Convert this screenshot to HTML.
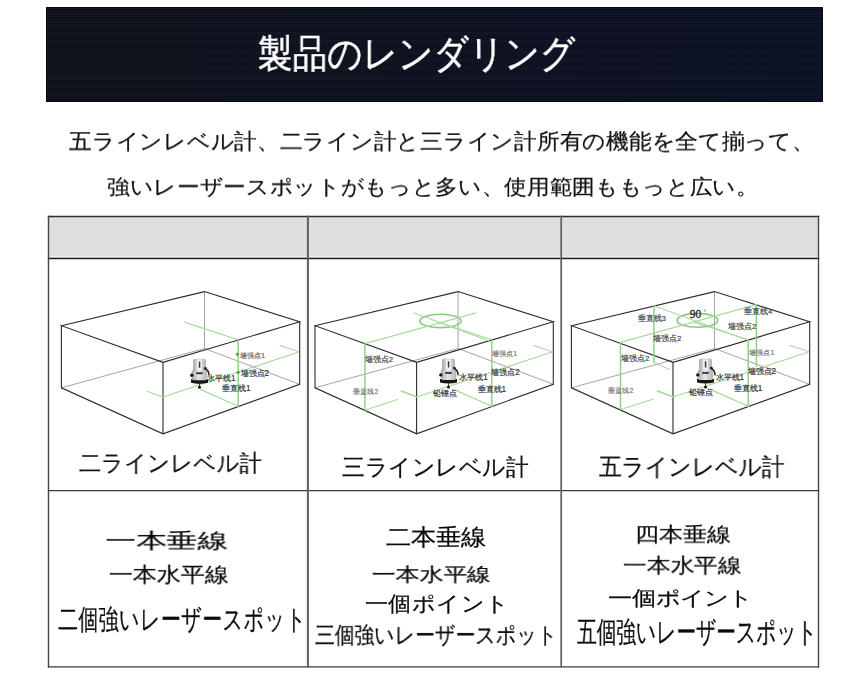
<!DOCTYPE html>
<html><head><meta charset="utf-8">
<style>
html,body{margin:0;padding:0;background:#fff;}
body{width:861px;height:678px;position:relative;overflow:hidden;font-family:"Liberation Sans",sans-serif;}
.banner{position:absolute;left:46px;top:7px;width:775px;height:93px;border:1px solid #06080e;
background:repeating-linear-gradient(180deg,rgba(255,255,255,0.025) 0px,rgba(255,255,255,0.025) 1.35px,rgba(0,0,0,0.07) 1.35px,rgba(0,0,0,0.07) 2.7px),linear-gradient(90deg,#0f121c,#0d1120 50%,#0b1126);}
.t{position:absolute;white-space:nowrap;transform-origin:0 0;will-change:transform;-webkit-text-stroke:0.22px currentColor;}
.hdr{position:absolute;left:48px;top:216px;width:770px;height:42px;background:#dfdfdf;}
.hl{position:absolute;background:#2a2a2a;}
svg{position:absolute;left:0;top:0;}
.edge{fill:none;stroke:#2b2b2b;stroke-width:1.1;stroke-linejoin:miter;}
.hid{fill:none;stroke:#9a9a9a;stroke-width:0.9;}
.g{stroke:#a6dc9c;stroke-width:1.2;}
.gv{stroke:#92d08a;stroke-width:1.5;}
.ge{fill:none;stroke:#88cc80;stroke-width:1.6;}
text{font-family:"Liberation Sans",sans-serif;stroke:currentColor;}
</style></head><body>
<div class="banner"></div>
<div class="hdr"></div>
<svg width="861" height="678" viewBox="0 0 861 678"><defs><linearGradient id="dg" x1="0" x2="1" y1="0" y2="0"><stop offset="0" stop-color="#a9a9a9"/><stop offset="0.45" stop-color="#e6e6e6"/><stop offset="1" stop-color="#b4b4b4"/></linearGradient></defs>
<line x1="47.8" y1="216.4" x2="819.2" y2="216.4" stroke="#2e2e2e" stroke-width="1.5"/>
<line x1="48" y1="256.6" x2="818" y2="256.6" stroke="#ececec" stroke-width="1.2"/>
<line x1="47.8" y1="258.5" x2="819.2" y2="258.5" stroke="#1e1e1e" stroke-width="1.5"/>
<line x1="47.8" y1="490.5" x2="819.2" y2="490.5" stroke="#3a3a3a" stroke-width="1.25"/>
<line x1="47.8" y1="666.8" x2="819.2" y2="666.8" stroke="#707070" stroke-width="1.8"/>
<line x1="48.5" y1="215.8" x2="48.5" y2="667.6" stroke="#444" stroke-width="1.4"/>
<line x1="307.9" y1="215.8" x2="307.9" y2="667.6" stroke="#5e5e5e" stroke-width="2"/>
<line x1="561.2" y1="215.8" x2="561.2" y2="667.6" stroke="#606060" stroke-width="1.7"/>
<line x1="818.5" y1="215.8" x2="818.5" y2="667.6" stroke="#444" stroke-width="1.4"/>
<polyline points="204.5,291.6 204.5,348.5" class="hid"/>
<polyline points="61.4,387.8 204.5,348.5 299.7,384.3" class="hid"/>
<polygon points="61.4,325.7 204.5,291.6 299.7,321.8 163.0,362.3" class="edge"/>
<polyline points="61.4,325.7 61.4,387.8 163.0,433.8 299.7,384.3 299.7,321.8" class="edge"/>
<line x1="163.0" y1="362.3" x2="163.0" y2="433.8" class="edge"/>
<polyline points="458.1,291.6 458.1,348.5" class="hid"/>
<polyline points="315.0,387.8 458.1,348.5 553.3,384.3" class="hid"/>
<polygon points="315.0,325.7 458.1,291.6 553.3,321.8 416.6,362.3" class="edge"/>
<polyline points="315.0,325.7 315.0,387.8 416.6,433.8 553.3,384.3 553.3,321.8" class="edge"/>
<line x1="416.6" y1="362.3" x2="416.6" y2="433.8" class="edge"/>
<polyline points="714.5,291.6 714.5,348.5" class="hid"/>
<polyline points="571.4,387.8 714.5,348.5 809.7,384.3" class="hid"/>
<polygon points="571.4,325.7 714.5,291.6 809.7,321.8 673.0,362.3" class="edge"/>
<polyline points="571.4,325.7 571.4,387.8 673.0,433.8 809.7,384.3 809.7,321.8" class="edge"/>
<line x1="673.0" y1="362.3" x2="673.0" y2="433.8" class="edge"/>
<line x1="238.2" y1="340.2" x2="238.2" y2="406.7" class="gv"/>
<line x1="184.2" y1="322.1" x2="238.2" y2="339.8" class="g"/>
<line x1="147.0" y1="391.2" x2="163.0" y2="397.0" class="g"/>
<line x1="163.0" y1="397.0" x2="298.6" y2="352.0" class="g"/>
<line x1="279.4" y1="345.2" x2="299.0" y2="351.8" class="g"/>
<line x1="200.2" y1="389.4" x2="238.2" y2="406.2" class="g"/>
<circle cx="237.5" cy="354.2" r="1.6" fill="#3cb43c"/><circle cx="238.2" cy="372.4" r="1.6" fill="#3cb43c"/>
<text x="240.0" y="357.5" font-size="7.38" fill="#666" style="color:#666;stroke-width:0.18">墙强点1</text>
<text x="240.5" y="376.0" font-size="8.20" fill="#333" style="color:#333;stroke-width:0.18">墙强点2</text>
<text x="207.0" y="380.5" font-size="8.20" fill="#333" style="color:#333;stroke-width:0.18">水平线1</text>
<text x="222.0" y="390.8" font-size="8.20" fill="#333" style="color:#333;stroke-width:0.18">垂直线1</text>
<g transform="translate(193.0,358.8)">
<path d="M-2,20.5 h17 v3.5 q-8.5,2.2 -17,0 z" fill="#161616"/>
<rect x="-1.2" y="11" width="15.4" height="10.5" rx="2" fill="url(#dg)"/>
<rect x="0" y="0" width="13" height="13" rx="1.8" fill="url(#dg)"/>
<rect x="4" y="1.5" width="5" height="10" fill="#f2f2f2"/>
<rect x="5.8" y="2.8" width="1.5" height="6.2" fill="#3a3a3a"/>
<rect x="3.2" y="13.6" width="6.5" height="1.7" fill="#2a2a2a"/>
<circle cx="-1.2" cy="16.4" r="1.7" fill="#151515"/>
<path d="M12.3,9.6 q4.2,3 3.6,7.2" stroke="#202020" stroke-width="1.5" fill="none"/>
<circle cx="12.3" cy="9.6" r="1.4" fill="#202020"/>
<circle cx="6.5" cy="28.4" r="1.5" fill="#111"/>
<rect x="6" y="24.5" width="1" height="3" fill="#444"/>
</g>
<line x1="491.8" y1="340.2" x2="491.8" y2="406.7" class="gv"/>
<line x1="437.8" y1="322.1" x2="491.8" y2="339.8" class="g"/>
<line x1="400.6" y1="391.2" x2="416.6" y2="397.0" class="g"/>
<line x1="416.6" y1="397.0" x2="552.2" y2="352.0" class="g"/>
<line x1="533.0" y1="345.2" x2="552.6" y2="351.8" class="g"/>
<line x1="453.8" y1="389.4" x2="491.8" y2="406.2" class="g"/>
<ellipse cx="440.5" cy="320.9" rx="20.7" ry="6.7" class="ge"/>
<line x1="413.7" y1="312.8" x2="491.7" y2="342.0" class="g"/>
<line x1="364.9" y1="343.7" x2="476.3" y2="312.8" class="g"/>
<line x1="364.9" y1="343.7" x2="364.9" y2="410.2" class="gv"/>
<line x1="364.9" y1="410.2" x2="398.0" y2="399.2" class="g"/>
<line x1="401.4" y1="390.5" x2="417.4" y2="397.0" class="g"/>
<text x="364.8" y="361.8" font-size="7.79" fill="#444" style="color:#444;stroke-width:0.18">墙强点2</text>
<text x="353.4" y="393.5" font-size="6.97" fill="#777" style="color:#777;stroke-width:0.18">垂直线2</text>
<text x="492.3" y="356.0" font-size="6.97" fill="#777" style="color:#777;stroke-width:0.18">墙强点1</text>
<text x="491.2" y="375.0" font-size="8.20" fill="#333" style="color:#333;stroke-width:0.18">墙强点2</text>
<text x="459.2" y="380.0" font-size="8.20" fill="#333" style="color:#333;stroke-width:0.18">水平线1</text>
<text x="477.5" y="391.5" font-size="8.20" fill="#333" style="color:#333;stroke-width:0.18">垂直线1</text>
<text x="432.9" y="396.0" font-size="8.20" fill="#333" style="color:#333;stroke-width:0.18">铅锤点</text>
<g transform="translate(442.0,358.5)">
<path d="M-2,20.5 h17 v3.5 q-8.5,2.2 -17,0 z" fill="#161616"/>
<rect x="-1.2" y="11" width="15.4" height="10.5" rx="2" fill="url(#dg)"/>
<rect x="0" y="0" width="13" height="13" rx="1.8" fill="url(#dg)"/>
<rect x="4" y="1.5" width="5" height="10" fill="#f2f2f2"/>
<rect x="5.8" y="2.8" width="1.5" height="6.2" fill="#3a3a3a"/>
<rect x="3.2" y="13.6" width="6.5" height="1.7" fill="#2a2a2a"/>
<circle cx="-1.2" cy="16.4" r="1.7" fill="#151515"/>
<path d="M12.3,9.6 q4.2,3 3.6,7.2" stroke="#202020" stroke-width="1.5" fill="none"/>
<circle cx="12.3" cy="9.6" r="1.4" fill="#202020"/>
<circle cx="6.5" cy="28.4" r="1.5" fill="#111"/>
<rect x="6" y="24.5" width="1" height="3" fill="#444"/>
</g>
<line x1="748.2" y1="340.2" x2="748.2" y2="406.7" class="gv"/>
<line x1="694.2" y1="322.1" x2="748.2" y2="339.8" class="g"/>
<line x1="657.0" y1="391.2" x2="673.0" y2="397.0" class="g"/>
<line x1="673.0" y1="397.0" x2="808.6" y2="352.0" class="g"/>
<line x1="789.4" y1="345.2" x2="809.0" y2="351.8" class="g"/>
<line x1="710.2" y1="389.4" x2="748.2" y2="406.2" class="g"/>
<ellipse cx="697.4" cy="320.3" rx="20.4" ry="6.9" class="ge"/>
<line x1="653.9" y1="305.7" x2="748.0" y2="340.2" class="g"/>
<line x1="620.5" y1="342.3" x2="756.4" y2="304.6" class="g"/>
<line x1="653.9" y1="305.7" x2="653.9" y2="363.0" class="gv"/>
<line x1="756.4" y1="304.6" x2="756.4" y2="367.0" class="gv"/>
<line x1="620.5" y1="342.3" x2="620.5" y2="409.5" class="gv"/>
<line x1="620.5" y1="409.5" x2="654.0" y2="399.0" class="g"/>
<line x1="657.2" y1="390.2" x2="673.2" y2="397.1" class="g"/>
<line x1="654.0" y1="362.7" x2="670.0" y2="369.5" class="g"/>
<text x="689.8" y="318.3" font-size="11.5" fill="#222" style="font-family:Liberation Serif,serif;color:#222;stroke-width:0.3">90</text>
<text x="703.5" y="315" font-size="7" fill="#666" style="color:#666;stroke-width:0">°</text>
<text x="637.6" y="321.0" font-size="7.79" fill="#444" style="color:#444;stroke-width:0.18">垂直线3</text>
<text x="653.0" y="340.7" font-size="7.79" fill="#444" style="color:#444;stroke-width:0.18">墙强点2</text>
<text x="621.0" y="360.5" font-size="7.79" fill="#444" style="color:#444;stroke-width:0.18">墙强点2</text>
<text x="608.4" y="392.5" font-size="6.97" fill="#777" style="color:#777;stroke-width:0.18">垂直线2</text>
<text x="744.1" y="313.7" font-size="7.79" fill="#444" style="color:#444;stroke-width:0.18">垂直线4</text>
<text x="728.0" y="329.3" font-size="7.79" fill="#444" style="color:#444;stroke-width:0.18">墙强点2</text>
<text x="749.4" y="355.4" font-size="6.97" fill="#777" style="color:#777;stroke-width:0.18">墙强点1</text>
<text x="747.5" y="374.4" font-size="8.20" fill="#333" style="color:#333;stroke-width:0.18">墙强点2</text>
<text x="715.5" y="379.6" font-size="8.20" fill="#333" style="color:#333;stroke-width:0.18">水平线1</text>
<text x="733.8" y="391.0" font-size="8.20" fill="#333" style="color:#333;stroke-width:0.18">垂直线1</text>
<text x="689.2" y="395.0" font-size="8.20" fill="#333" style="color:#333;stroke-width:0.18">铅锤点</text>
<g transform="translate(699.0,358.5)">
<path d="M-2,20.5 h17 v3.5 q-8.5,2.2 -17,0 z" fill="#161616"/>
<rect x="-1.2" y="11" width="15.4" height="10.5" rx="2" fill="url(#dg)"/>
<rect x="0" y="0" width="13" height="13" rx="1.8" fill="url(#dg)"/>
<rect x="4" y="1.5" width="5" height="10" fill="#f2f2f2"/>
<rect x="5.8" y="2.8" width="1.5" height="6.2" fill="#3a3a3a"/>
<rect x="3.2" y="13.6" width="6.5" height="1.7" fill="#2a2a2a"/>
<circle cx="-1.2" cy="16.4" r="1.7" fill="#151515"/>
<path d="M12.3,9.6 q4.2,3 3.6,7.2" stroke="#202020" stroke-width="1.5" fill="none"/>
<circle cx="12.3" cy="9.6" r="1.4" fill="#202020"/>
<circle cx="6.5" cy="28.4" r="1.5" fill="#111"/>
<rect x="6" y="24.5" width="1" height="3" fill="#444"/>
</g>
</svg>
<div class="t" style="left:257.61px;top:34.00px;font-size:39px;line-height:39px;transform:scale(0.8866,1.0000);color:#fff;-webkit-text-stroke:0.5px #fff;">製品のレンダリング</div>
<div class="t" style="left:68.50px;top:130.90px;font-size:22px;line-height:22px;transform:scale(1.0328,0.9818);color:#111;">五ラインレベル計、二ライン計と三ライン計所有の機能を全て揃って、</div>
<div class="t" style="left:107.40px;top:177.34px;font-size:22px;line-height:22px;transform:scale(1.0293,0.9435);color:#111;">強いレーザースポットがもっと多い、使用範囲ももっと広い。</div>
<div class="t" style="left:78.50px;top:452.00px;font-size:23px;line-height:23px;transform:scale(0.9616,1.0000);color:#111;">二ラインレベル計</div>
<div class="t" style="left:342.38px;top:455.90px;font-size:22px;line-height:22px;transform:scale(1.0232,1.0333);color:#111;">三ラインレベル計</div>
<div class="t" style="left:598.50px;top:455.00px;font-size:23px;line-height:23px;transform:scale(0.9747,1.0273);color:#111;">五ラインレベル計</div>
<div class="t" style="left:105.95px;top:529.60px;font-size:21px;line-height:21px;transform:scale(1.4488,0.9857);color:#0a0a0a;">一本垂線</div>
<div class="t" style="left:109.26px;top:564.40px;font-size:21px;line-height:21px;transform:scale(1.1388,0.9810);color:#0a0a0a;">一本水平線</div>
<div class="t" style="left:58.28px;top:606.00px;font-size:28px;line-height:28px;transform:scale(0.7248,1.0148);color:#0a0a0a;">二個強いレーザースポット</div>
<div class="t" style="left:385.50px;top:526.30px;font-size:22px;line-height:22px;transform:scale(1.1356,1.0333);color:#0a0a0a;">二本垂線</div>
<div class="t" style="left:372.45px;top:564.80px;font-size:19px;line-height:19px;transform:scale(1.2527,0.9895);color:#0a0a0a;">一本水平線</div>
<div class="t" style="left:365.18px;top:593.38px;font-size:21px;line-height:21px;transform:scale(1.1154,1.0150);color:#0a0a0a;">一個ポイント</div>
<div class="t" style="left:315.10px;top:624.00px;font-size:22px;line-height:22px;transform:scale(0.8955,1.0381);color:#0a0a0a;">三個強いレーザースポット</div>
<div class="t" style="left:635.31px;top:524.30px;font-size:21px;line-height:21px;transform:scale(1.1457,0.9619);color:#0a0a0a;">四本垂線</div>
<div class="t" style="left:623.07px;top:555.40px;font-size:21px;line-height:21px;transform:scale(1.1320,0.9619);color:#0a0a0a;">一本水平線</div>
<div class="t" style="left:608.13px;top:588.36px;font-size:19px;line-height:19px;transform:scale(1.2651,1.0444);color:#0a0a0a;">一個ポイント</div>
<div class="t" style="left:576.80px;top:617.60px;font-size:28px;line-height:28px;transform:scale(0.6997,1.0222);color:#0a0a0a;">五個強いレーザースポット</div>
</body></html>
